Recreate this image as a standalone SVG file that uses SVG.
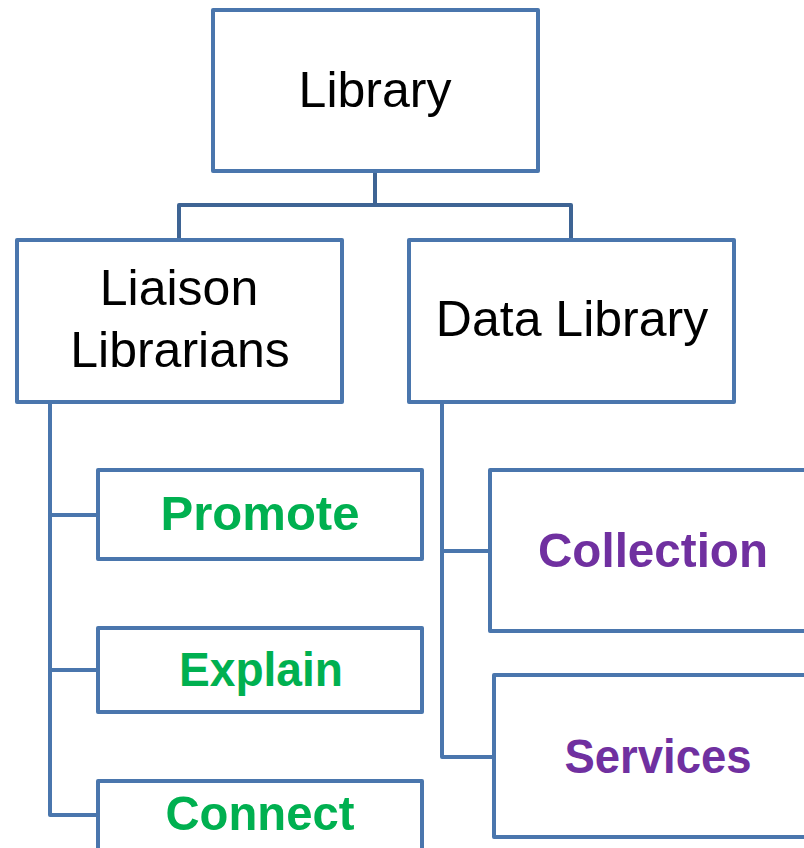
<svg xmlns="http://www.w3.org/2000/svg" width="804" height="848" viewBox="0 0 804 848">
<style>
.box{fill:#ffffff;stroke:#4a76ad;stroke-width:4;stroke-linejoin:round}
.ln{fill:none;stroke:#4a76ad;stroke-width:4;stroke-linejoin:round}
.ln2{fill:none;stroke:#3e6494;stroke-width:4;stroke-linejoin:round}
.t{font-family:"Liberation Sans",Arial,sans-serif;font-size:50px;fill:#000000;text-anchor:middle}
.g{font-family:"Liberation Sans",Arial,sans-serif;font-size:49px;font-weight:bold;fill:#00b050;text-anchor:middle}
.p{font-family:"Liberation Sans",Arial,sans-serif;font-size:49px;font-weight:bold;fill:#7030a0;text-anchor:middle}
</style>
<rect width="804" height="848" fill="#ffffff"/>
<g id="connectors">
<path class="ln2" d="M375,171 V205 M179,240 V205 H571 V240"/>
<path class="ln" d="M50,402 V815 H98 M50,515 H98 M50,670 H98"/>
<path class="ln" d="M442,402 V757 H494 M442,551 H490"/>
</g>
<g id="library"><rect class="box" x="213" y="10" width="325" height="161"/><text class="t" x="375" y="107">Library</text></g>
<g id="liaison"><rect class="box" x="17" y="240" width="325" height="162"/><text class="t" x="179" y="305">Liaison</text><text class="t" x="180" y="367">Librarians</text></g>
<g id="datalibrary"><rect class="box" x="409" y="240" width="325" height="162"/><text class="t" x="572" y="336">Data Library</text></g>
<g id="promote"><rect class="box" x="98" y="470" width="324" height="89"/><text class="g" x="260" y="530" textLength="199" lengthAdjust="spacingAndGlyphs">Promote</text></g>
<g id="explain"><rect class="box" x="98" y="628" width="324" height="84"/><text class="g" x="261" y="686" textLength="164" lengthAdjust="spacingAndGlyphs">Explain</text></g>
<g id="connect"><rect class="box" x="98" y="781" width="324" height="90"/><text class="g" x="260" y="830" textLength="189" lengthAdjust="spacingAndGlyphs">Connect</text></g>
<g id="collection"><rect class="box" x="490" y="470" width="330" height="161"/><text class="p" x="653" y="567" textLength="230" lengthAdjust="spacingAndGlyphs">Collection</text></g>
<g id="services"><rect class="box" x="494" y="675" width="330" height="162"/><text class="p" x="658" y="773" textLength="187" lengthAdjust="spacingAndGlyphs">Services</text></g>
</svg>
